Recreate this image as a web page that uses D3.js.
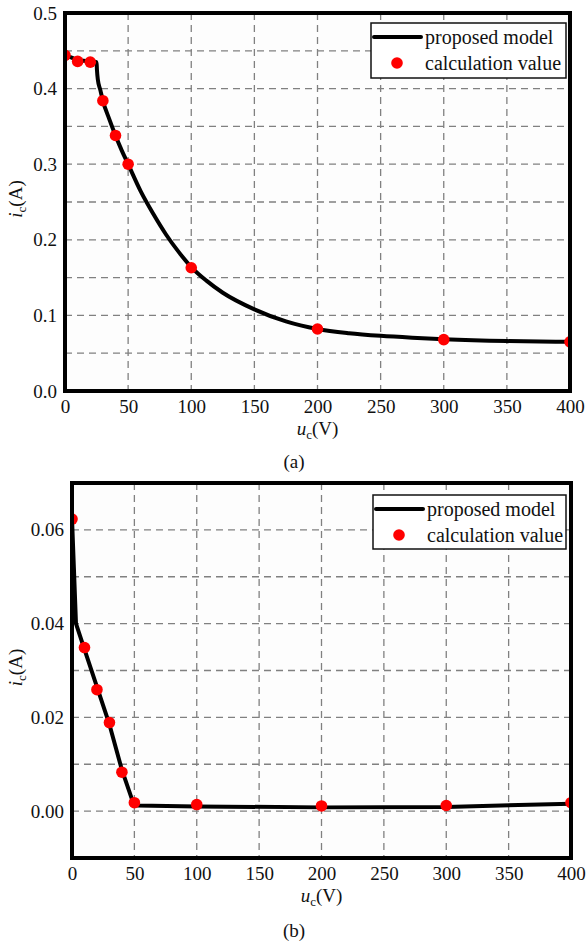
<!DOCTYPE html>
<html>
<head>
<meta charset="utf-8">
<script src="https://cdn.jsdelivr.net/npm/d3@7"></script>
<style>
  body { margin: 0; background: #fff; }
  svg { display: block; }
  text { font-family: "Liberation Serif", "Times New Roman", serif; fill: #111; }
</style>
</head>
<body>
<svg id="chart" width="588" height="945"></svg>
<script>
// ---------- DATA ----------
const xTicks = [0, 50, 100, 150, 200, 250, 300, 350, 400];
const xGrid = [50, 100, 150, 200, 250, 300, 350];

// panel (a)
const yTicksA = [0.0, 0.1, 0.2, 0.3, 0.4, 0.5];
const yGridA = [0.05, 0.1, 0.15, 0.2, 0.25, 0.3, 0.35, 0.4, 0.45];
const calcU_A = [0, 10, 20, 30, 40, 50, 100, 200, 300, 400];
const calcI_A = [0.444, 0.436, 0.435, 0.384, 0.338, 0.300, 0.163, 0.082, 0.068, 0.065];
const modelU_A = [0, 10, 20, 25, 25.3, 26, 28, 30, 35, 40, 45, 50, 60, 70, 80, 90, 100, 112, 125, 150, 175, 200, 225, 250, 275, 300, 350, 400];
const modelI_A = [0.445, 0.438, 0.436, 0.435, 0.425, 0.412, 0.398, 0.384, 0.360, 0.338, 0.318, 0.300, 0.264, 0.234, 0.207, 0.184, 0.164, 0.146, 0.130, 0.108, 0.092, 0.082, 0.0765, 0.073, 0.0705, 0.0685, 0.066, 0.065];

// panel (b)
const yTicksB = [0.00, 0.02, 0.04, 0.06];
const yGridB = [0.00, 0.01, 0.02, 0.03, 0.04, 0.05, 0.06];
const calcU_B = [0, 10, 20, 30, 40, 50, 100, 200, 300, 400];
const calcI_B = [0.0623, 0.0349, 0.0259, 0.0189, 0.0083, 0.0018, 0.0014, 0.0011, 0.0012, 0.0018];
const modelU_B = [0, 1.5, 3.2, 10, 20, 30, 40, 49, 52, 100, 200, 300, 400];
const modelI_B = [0.0625, 0.052, 0.040, 0.0345, 0.0265, 0.0185, 0.0088, 0.0018, 0.0012, 0.0010, 0.0008, 0.0009, 0.0016];

const legendLabels = ["proposed model", "calculation value"];
const panelLabels = ["(a)", "(b)"];

// ---------- DRAW ----------
const svg = d3.select("#chart");
const FONT = "'Liberation Serif', 'Times New Roman', serif";

function drawPanel(cfg) {
  const { left, right, top, bottom, yDomain, yTicks, yGrid, yFmt,
          calcU, calcI, modelU, modelI, curve, legend, xLabelY, yLabelX, tag, tagY, id } = cfg;
  const x = d3.scaleLinear().domain([0, 400]).range([left, right]);
  const y = d3.scaleLinear().domain(yDomain).range([bottom, top]);
  const g = svg.append("g");

  g.append("rect").attr("x", left).attr("y", top)
    .attr("width", right - left).attr("height", bottom - top).attr("fill", "#fdfdfd");

  // grid
  const grid = g.append("g").attr("stroke", "#808080").attr("stroke-width", 1.3)
    .attr("stroke-dasharray", "7,5");
  grid.selectAll("line.v").data(xGrid).join("line").attr("class", "v")
    .attr("x1", d => x(d)).attr("x2", d => x(d)).attr("y1", top).attr("y2", bottom);
  grid.selectAll("line.h").data(yGrid).join("line").attr("class", "h")
    .attr("x1", left).attr("x2", right).attr("y1", d => y(d)).attr("y2", d => y(d));

  // clip
  svg.append("defs").append("clipPath").attr("id", id)
    .append("rect").attr("x", left).attr("y", top)
    .attr("width", right - left).attr("height", bottom - top);
  const plot = g.append("g").attr("clip-path", `url(#${id})`);

  const lineData = modelU.map((u, i) => [u, modelI[i]]);
  plot.append("path").datum(lineData)
    .attr("fill", "none").attr("stroke", "#000").attr("stroke-width", 4)
    .attr("stroke-linejoin", "round")
    .attr("d", d3.line().x(d => x(d[0])).y(d => y(d[1])).curve(curve));

  const pts = calcU.map((u, i) => [u, calcI[i]]);
  plot.selectAll("circle").data(pts).join("circle")
    .attr("cx", d => x(d[0])).attr("cy", d => y(d[1])).attr("r", 5.8).attr("fill", "#ff0000");

  // axes (labels only)
  const ax = g.append("g").attr("transform", `translate(0,${bottom})`)
    .call(d3.axisBottom(x).tickValues(xTicks).tickSize(0).tickPadding(9).tickFormat(d3.format("d")));
  ax.select(".domain").remove();
  ax.attr("font-family", FONT);
  ax.selectAll("text").attr("font-size", 19).attr("fill", "#111");

  const ay = g.append("g").attr("transform", `translate(${left},0)`)
    .call(d3.axisLeft(y).tickValues(yTicks).tickSize(0).tickPadding(8).tickFormat(d3.format(yFmt)));
  ay.select(".domain").remove();
  ay.attr("font-family", FONT);
  ay.selectAll("text").attr("font-size", 19).attr("fill", "#111");

  // frame
  g.append("rect").attr("x", left).attr("y", top)
    .attr("width", right - left).attr("height", bottom - top)
    .attr("fill", "none").attr("stroke", "#000").attr("stroke-width", 4);

  // x label
  const xl = g.append("text").attr("x", (left + right) / 2).attr("y", xLabelY)
    .attr("text-anchor", "middle").attr("font-size", 19);
  xl.append("tspan").attr("font-style", "italic").text("u");
  xl.append("tspan").attr("font-size", 13).attr("dy", 4).text("c");
  xl.append("tspan").attr("dy", -4).text("(V)");

  // y label
  const yl = g.append("text")
    .attr("transform", `translate(${yLabelX},${(top + bottom) / 2 - 3}) rotate(-90)`)
    .attr("text-anchor", "middle").attr("font-size", 19);
  yl.append("tspan").attr("font-style", "italic").text("i");
  yl.append("tspan").attr("font-size", 13).attr("dy", 4).text("c");
  yl.append("tspan").attr("dy", -4).text("(A)");

  // legend
  const lg = g.append("g");
  lg.append("rect").attr("x", legend.x).attr("y", legend.y).attr("width", legend.w).attr("height", legend.h)
    .attr("fill", "#fff").attr("stroke", "#111").attr("stroke-width", 1.5);
  lg.append("line").attr("x1", legend.x + 3).attr("x2", legend.x + 50)
    .attr("y1", legend.y + 14).attr("y2", legend.y + 14)
    .attr("stroke", "#000").attr("stroke-width", 4).attr("stroke-linecap", "round");
  lg.append("circle").attr("cx", legend.x + 26).attr("cy", legend.y + 40).attr("r", 5.8).attr("fill", "#ff0000");
  lg.selectAll("text").data(legendLabels).join("text")
    .attr("x", legend.x + 54).attr("y", (d, i) => legend.y + 21 + i * 26)
    .attr("font-size", 20).text(d => d);

  g.append("text").attr("x", 294).attr("y", tagY).attr("text-anchor", "middle")
    .attr("font-size", 19).text(tag);
}

drawPanel({
  id: "clipA", left: 65, right: 570, top: 13, bottom: 391,
  yDomain: [0, 0.5], yTicks: yTicksA, yGrid: yGridA, yFmt: ".1f",
  calcU: calcU_A, calcI: calcI_A, modelU: modelU_A, modelI: modelI_A,
  curve: d3.curveMonotoneX,
  legend: { x: 371, y: 23, w: 195, h: 55 },
  xLabelY: 435, yLabelX: 22, tag: panelLabels[0], tagY: 468
});

drawPanel({
  id: "clipB", left: 72, right: 571, top: 483, bottom: 858,
  yDomain: [-0.01, 0.07], yTicks: yTicksB, yGrid: yGridB, yFmt: ".2f",
  calcU: calcU_B, calcI: calcI_B, modelU: modelU_B, modelI: modelI_B,
  curve: d3.curveLinear,
  legend: { x: 373, y: 495, w: 193, h: 54 },
  xLabelY: 902, yLabelX: 22, tag: panelLabels[1], tagY: 937
});
</script>
</body>
</html>
